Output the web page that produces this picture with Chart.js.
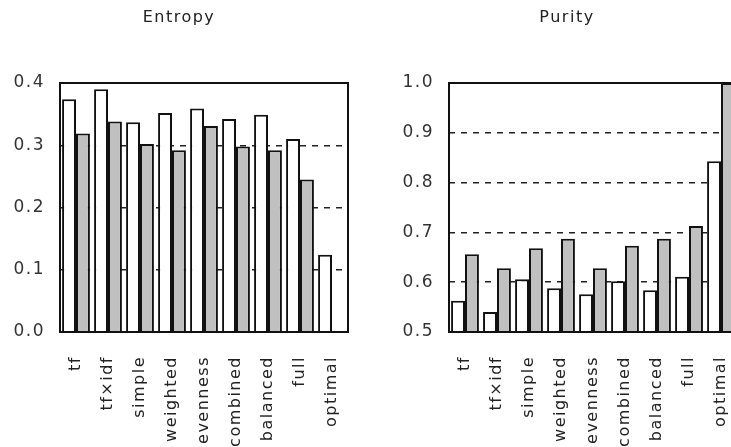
<!DOCTYPE html>
<html>
<head>
<meta charset="utf-8">
<script src="https://cdn.jsdelivr.net/npm/chart.js@4"></script>
<style>
  html, body { margin: 0; padding: 0; background: #fff; overflow: hidden; width: 731px; height: 447px; }
  .box { position: absolute; top: 0; height: 447px; }
  #leftBox { left: 0; width: 358px; }
  #rightBox { left: 387px; width: 360px; }
</style>
</head>
<body>
<div class="box" id="leftBox"><canvas id="entropy"></canvas></div>
<div class="box" id="rightBox"><canvas id="purity"></canvas></div>
<script>
// datos
const categories = ['tf', 'tf×idf', 'simple', 'weighted', 'evenness', 'combined', 'balanced', 'full', 'optimal'];
const entropyWhite = [0.374, 0.390, 0.337, 0.352, 0.359, 0.342, 0.349, 0.310, 0.124];
const entropyGray  = [0.319, 0.338, 0.302, 0.292, 0.331, 0.298, 0.292, 0.245, null];
const purityWhite  = [0.563, 0.540, 0.606, 0.588, 0.576, 0.602, 0.584, 0.611, 0.843];
const purityGray   = [0.656, 0.628, 0.668, 0.687, 0.628, 0.673, 0.687, 0.713, 1.0];

Chart.defaults.font.family = "'DejaVu Sans', sans-serif";
Chart.defaults.color = '#222';

// marco negro alrededor del area de dibujo
const framePlugin = {
  id: 'frame',
  afterDatasetsDraw(chart) {
    const { ctx, chartArea: a } = chart;
    ctx.save();
    ctx.lineWidth = 2;
    ctx.strokeStyle = '#111';
    ctx.strokeRect(a.left, a.top, a.width, a.height);
    ctx.restore();
  }
};

// texto algo espaciado como en el original
const spacingPlugin = {
  id: 'spacing',
  beforeDraw(chart) { chart.ctx.letterSpacing = '1.5px'; }
};

function crearGrafico(canvasId, title, white, gray, yMin, yMax, padLeft, yWidth) {
  return new Chart(document.getElementById(canvasId), {
    type: 'bar',
    data: {
      labels: categories,
      datasets: [
        { data: white, backgroundColor: '#ffffff', borderColor: '#111', borderWidth: 2 },
        { data: gray, backgroundColor: '#c0c0c0', borderColor: '#111', borderWidth: 2 }
      ]
    },
    options: {
      responsive: true,
      maintainAspectRatio: false,
      animation: false,
      barPercentage: 1.0,
      categoryPercentage: 0.87,
      layout: { padding: { left: padLeft, right: 10, top: 0, bottom: 0 } },
      plugins: {
        legend: { display: false },
        tooltip: { enabled: false },
        title: {
          display: true,
          text: title,
          color: '#222',
          font: { size: 16, weight: 'normal' },
          padding: { top: 8, bottom: 55.8 }
        }
      },
      scales: {
        x: {
          grid: { display: false },
          border: { display: false },
          ticks: { minRotation: 90, maxRotation: 90, autoSkip: false, padding: 16, font: { size: 16 }, color: '#222' },
          afterFit: s => { s.height = 115; s.paddingLeft = 0; s.paddingRight = 0; }
        },
        y: {
          min: yMin,
          max: yMax,
          grid: { color: '#222', lineWidth: 1.5, drawTicks: false },
          border: { display: false, dash: [6, 6] },
          ticks: { stepSize: 0.1, padding: 15, font: { size: 17 }, color: '#333', callback: v => v.toFixed(1) },
          afterFit: s => { s.width = yWidth; s.paddingTop = 0; s.paddingBottom = 0; }
        }
      }
    },
    plugins: [spacingPlugin, framePlugin]
  });
}

crearGrafico('entropy', 'Entropy', entropyWhite, entropyGray, 0, 0.4, 10, 50);
crearGrafico('purity', 'Purity', purityWhite, purityGray, 0.5, 1.0, 10, 52);
</script>
</body>
</html>
